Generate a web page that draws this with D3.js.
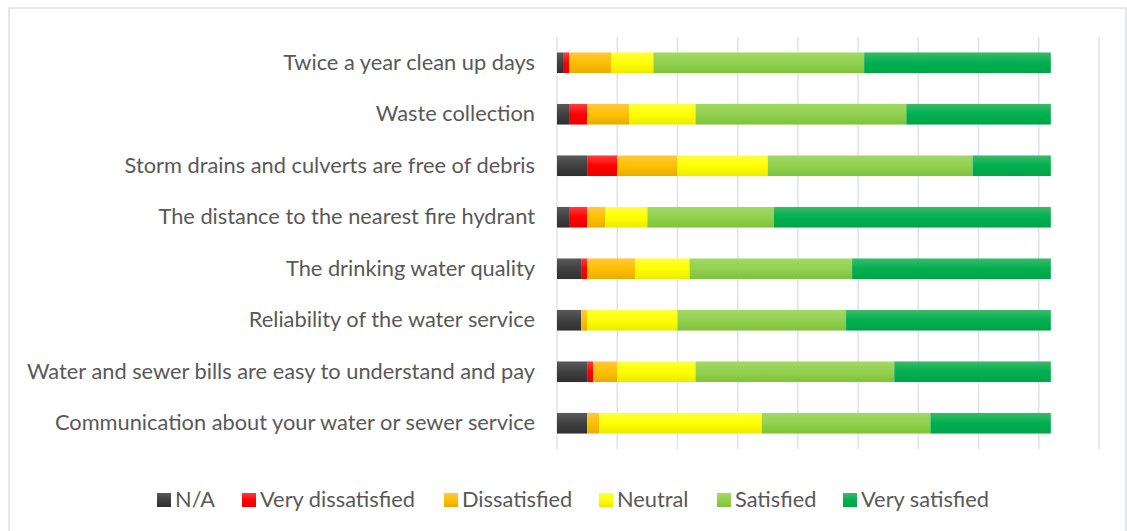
<!DOCTYPE html>
<html>
<head>
<meta charset="utf-8">
<script src="https://cdn.jsdelivr.net/npm/d3@7"></script>
<style>
  body { margin: 0; background: #fff; }
  svg { display: block; }
  text { font-family: Lato, "Open Sans", sans-serif; fill: #595959; }
</style>
</head>
<body>
<div id="chart"></div>
<script>
// survey rows, top to bottom
const categories = [
  "Twice a year clean up days",
  "Waste collection",
  "Storm drains and culverts are free of debris",
  "The distance to the nearest fire hydrant",
  "The drinking water quality",
  "Reliability of the water service",
  "Water and sewer bills are easy to understand and pay",
  "Communication about your water or sewer service"
];
const seriesNames = ["N/A", "Very dissatisfied", "Dissatisfied", "Neutral", "Satisfied", "Very satisfied"];

// counts per answer (82 respondents)
const naVals        = [1, 2, 5, 2, 4, 4, 5, 5];
const veryDisVals   = [1, 3, 5, 3, 1, 0, 1, 0];
const disVals       = [7, 7, 10, 3, 8, 1, 4, 2];
const neutralVals   = [7, 11, 15, 7, 9, 15, 13, 27];
const satVals       = [35, 35, 34, 21, 27, 28, 33, 28];
const verySatVals   = [31, 24, 13, 46, 33, 34, 26, 20];

const xTicks = [0, 10, 20, 30, 40, 50, 60, 70, 80, 90];

// gradient stops: top, middle, bottom
const colors = [
  ["#5a5a5a", "#404040", "#2f2f2f"],
  ["#ff3d3d", "#ff0000", "#e80000"],
  ["#ffc83c", "#ffc000", "#e6ac00"],
  ["#ffff3c", "#ffff00", "#eaea00"],
  ["#a3d963", "#92d050", "#80c23a"],
  ["#38bb68", "#00b050", "#00a448"]
];

const W = 1127, H = 531;
const svg = d3.select("#chart").append("svg")
  .attr("width", W)
  .attr("height", H);

const defs = svg.append("defs");
colors.forEach((c, i) => {
  const g = defs.append("linearGradient")
    .attr("id", "grad" + i)
    .attr("x1", 0).attr("y1", 0).attr("x2", 0).attr("y2", 1);
  g.append("stop").attr("offset", "0%").attr("stop-color", c[0]);
  g.append("stop").attr("offset", "50%").attr("stop-color", c[1]);
  g.append("stop").attr("offset", "100%").attr("stop-color", c[2]);
});

// chart border
svg.append("rect")
  .attr("x", 9).attr("y", 8)
  .attr("width", 1117).attr("height", 530)
  .attr("fill", "none")
  .attr("stroke", "#dde1e6")
  .attr("stroke-width", 1.5);

const x = d3.scaleLinear().domain([0, 90]).range([557, 1099]);
const y = d3.scaleBand().domain(categories).range([37, 449])
  .paddingInner(0.6).paddingOuter(0.3);

// gridlines
svg.append("g")
  .selectAll("line")
  .data(xTicks)
  .join("line")
  .attr("x1", d => x(d)).attr("x2", d => x(d))
  .attr("y1", 37).attr("y2", 449)
  .attr("stroke", "#dfe3e8")
  .attr("stroke-width", 1.5);

const rows = categories.map((c, i) => ({
  cat: c,
  "N/A": naVals[i],
  "Very dissatisfied": veryDisVals[i],
  "Dissatisfied": disVals[i],
  "Neutral": neutralVals[i],
  "Satisfied": satVals[i],
  "Very satisfied": verySatVals[i]
}));

const stacked = d3.stack().keys(seriesNames)(rows);

svg.append("g")
  .selectAll("g")
  .data(stacked)
  .join("g")
  .attr("fill", (d, i) => `url(#grad${i})`)
  .selectAll("rect")
  .data(d => d)
  .join("rect")
  .attr("x", d => x(d[0]))
  .attr("width", d => x(d[1]) - x(d[0]))
  .attr("y", d => y(d.data.cat))
  .attr("height", y.bandwidth());

// category labels
svg.append("g")
  .selectAll("text")
  .data(categories)
  .join("text")
  .attr("x", 535)
  .attr("y", d => y(d) + y.bandwidth() / 2)
  .attr("dy", "0.33em")
  .attr("text-anchor", "end")
  .attr("font-size", 21.8)
  .text(d => d);

// legend
const legendX = [157, 242, 444, 599, 717, 843];
const legend = svg.append("g")
  .selectAll("g")
  .data(seriesNames)
  .join("g")
  .attr("transform", (d, i) => `translate(${legendX[i]},493)`);
legend.append("rect")
  .attr("width", 14).attr("height", 14)
  .attr("fill", (d, i) => `url(#grad${i})`);
legend.append("text")
  .attr("x", 18).attr("y", 7)
  .attr("dy", "0.33em")
  .attr("font-size", 21.8)
  .text(d => d);
</script>
</body>
</html>
